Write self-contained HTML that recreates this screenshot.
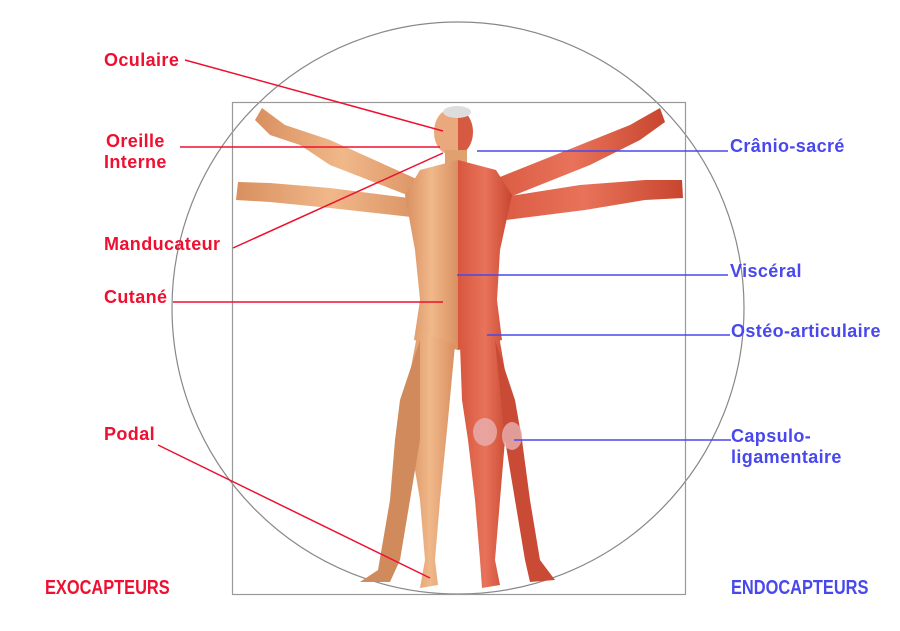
<!DOCTYPE html>
<html><head><meta charset="utf-8"><style>
body{margin:0;background:#fff;width:900px;height:631px;overflow:hidden}
svg{display:block}
text{font-family:"Liberation Sans",sans-serif;font-weight:bold;font-size:18px;letter-spacing:0.4px}
.r{fill:#ee1030}.b{fill:#4848ee}
</style></head><body>
<svg width="900" height="631" viewBox="0 0 900 631">
<defs>
<linearGradient id="sk" x1="0" x2="1"><stop offset="0" stop-color="#d98f5f"/><stop offset=".5" stop-color="#f0b88a"/><stop offset="1" stop-color="#d99060"/></linearGradient>
<linearGradient id="mu" x1="0" x2="1"><stop offset="0" stop-color="#d8563e"/><stop offset=".5" stop-color="#e8735a"/><stop offset="1" stop-color="#c8452e"/></linearGradient>
</defs>
<circle cx="458" cy="308" r="286" fill="none" stroke="#888" stroke-width="1.2"/>
<rect x="232.5" y="102.5" width="453" height="492" fill="none" stroke="#999" stroke-width="1.2"/>
<path d="M430 185 L330 140 L285 125 L262 108 L255 120 L270 135 L300 145 L330 165 L420 200 Z" fill="url(#sk)"/>
<path d="M425 200 L330 188 L270 183 L238 182 L236 200 L270 202 L330 208 L420 218 Z" fill="url(#sk)"/>
<path d="M480 185 L580 145 L630 125 L660 108 L665 122 L640 140 L590 165 L490 205 Z" fill="url(#mu)"/>
<path d="M485 200 L580 185 L645 180 L682 180 L683 198 L645 200 L585 210 L490 222 Z" fill="url(#mu)"/>
<ellipse cx="449" cy="132" rx="15" ry="22" fill="#e9a97c"/>
<path d="M458 110 A15 22 0 0 1 458 154 Z" fill="#d65a42"/>
<ellipse cx="457" cy="112" rx="14" ry="6" fill="#ddd"/>
<rect x="445" y="150" width="22" height="18" fill="#e0a070"/>
<path d="M458 160 L420 170 L405 195 L415 250 L420 300 L414 340 L458 350 Z" fill="url(#sk)"/>
<path d="M458 160 L496 170 L512 195 L500 250 L497 300 L502 340 L458 350 Z" fill="url(#mu)"/>
<path d="M418 330 L455 345 L448 420 L440 500 L435 560 L438 585 L420 588 L425 560 L420 500 L410 440 L405 400 Z" fill="url(#sk)"/>
<path d="M420 340 L400 400 L395 440 L390 500 L378 570 L360 582 L390 582 L400 560 L410 500 L420 440 Z" fill="#d08a5c"/>
<path d="M460 345 L498 330 L510 400 L505 440 L500 500 L495 560 L500 585 L482 588 L480 560 L475 500 L468 440 L462 400 Z" fill="url(#mu)"/>
<path d="M495 340 L515 400 L522 440 L530 500 L540 560 L555 580 L530 582 L525 560 L515 500 L505 440 Z" fill="#c94a35"/>
<ellipse cx="485" cy="432" rx="12" ry="14" fill="#e8b0b0" opacity=".8"/>
<ellipse cx="512" cy="436" rx="10" ry="14" fill="#e8b0b0" opacity=".8"/>
<g stroke="#ee1030" stroke-width="1.5">
<line x1="185" y1="60" x2="443" y2="131"/>
<line x1="180" y1="147" x2="440" y2="147"/>
<line x1="233" y1="248" x2="443" y2="153"/>
<line x1="173" y1="302" x2="443" y2="302"/>
<line x1="158" y1="445" x2="430" y2="578"/>
</g>
<g stroke="#4848ee" stroke-width="1.5">
<line x1="477" y1="151" x2="728" y2="151"/>
<line x1="457" y1="275" x2="728" y2="275"/>
<line x1="487" y1="335" x2="730" y2="335"/>
<line x1="514" y1="440" x2="731" y2="440"/>
</g>
<text class="r" x="104" y="66">Oculaire</text>
<text class="r" x="106" y="147">Oreille</text>
<text class="r" x="104" y="168">Interne</text>
<text class="r" x="104" y="250">Manducateur</text>
<text class="r" x="104" y="303">Cutané</text>
<text class="r" x="104" y="440">Podal</text>
<text class="r" x="45" y="594" transform="translate(45 0) scale(0.82 1) translate(-45 0)" style="font-size:20px;letter-spacing:0">EXOCAPTEURS</text>
<text class="b" x="730" y="152">Crânio-sacré</text>
<text class="b" x="730" y="277">Viscéral</text>
<text class="b" x="731" y="337">Ostéo-articulaire</text>
<text class="b" x="731" y="442">Capsulo-</text>
<text class="b" x="731" y="463">ligamentaire</text>
<text class="b" x="731" y="594" transform="translate(731 0) scale(0.82 1) translate(-731 0)" style="font-size:20px;letter-spacing:0">ENDOCAPTEURS</text>
</svg>
</body></html>
